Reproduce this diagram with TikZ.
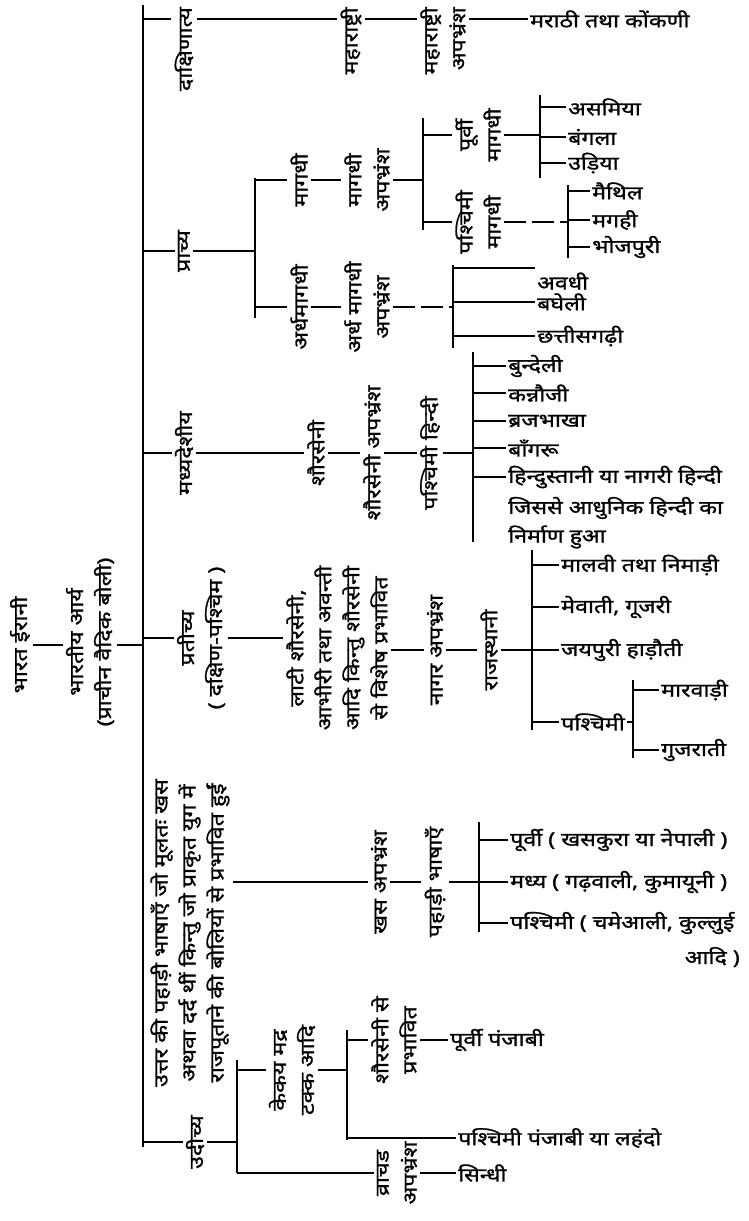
\documentclass[tikz,border=0pt]{standalone}
\usepackage{fontspec}
\newfontfamily\dev[Script=Devanagari,FakeStretch=1.22,FakeBold=1.2]{Noto Sans}
\begin{document}
\begin{tikzpicture}[x=1pt,y=-1pt,
  every node/.style={font=\dev\fontsize{19}{28}\selectfont, inner sep=3pt},
  vl/.style={rotate=90},
  lf/.style={anchor=west, inner sep=2pt},
  ln/.style={line width=2.2pt},
  dd/.style={ln, dash pattern=on 22pt off 6pt}]
\useasboundingbox (0,0) rectangle (748,1221);
% trunk
\coordinate (trT) at (143,5);
\coordinate (trB) at (143,1147);
\draw[ln] (trT) -- (trB);
% root
\node[vl] (root) at (20,645) {भारत ईरानी};
\node[vl,align=center] (bhar) at (90,642) {भारतीय आर्य\\(प्राचीन वैदिक बोली)};
\draw[ln] (root.south) -- (bhar.north |- root);
\draw[ln] (bhar.south |- root) -- (trT |- root);
% dakshinatya row
\coordinate (r19) at (0,19);
\node[vl,anchor=east] (daks) at (184,4) {दाक्षिणात्य};
\draw[ln] (trT |- r19) -- (daks.north |- r19);
\node[vl,anchor=east] (maha) at (351,4) {महाराष्ट्री};
\draw[ln] (daks.south |- r19) -- (maha.north |- r19);
\node[vl,anchor=east,align=right] (mahaA) at (443,4) {महाराष्ट्री\\अपभ्रंश};
\draw[ln] (maha.south |- r19) -- (mahaA.north |- r19);
\node[lf] (marathi) at (528,19) {मराठी तथा कोंकणी};
\draw[ln] (mahaA.south |- r19) -- (marathi.west);
% prachya
\node[vl] (prachya) at (184,251) {प्राच्य};
\draw[ln] (trT |- prachya) -- (prachya.north);
\coordinate (b2t) at (255,178); \coordinate (b2b) at (255,318);
\draw[ln] (b2t) -- (b2b);
\draw[ln] (prachya.south) -- (b2t |- prachya);
\node[vl] (magadhi) at (299,180) {मागधी};
\draw[ln] (b2t |- magadhi) -- (magadhi.north);
\node[vl,align=center] (magA) at (367,180) {मागधी\\अपभ्रंश};
\draw[ln] (magadhi.south) -- (magA.north);
\coordinate (b3t) at (423,118); \coordinate (b3b) at (423,230);
\draw[ln] (b3t) -- (b3b);
\draw[ln] (magA.south) -- (b3t |- magA);
\node[vl,align=center] (purvM) at (478,135) {पूर्वी\\मागधी};
\draw[ln] (b3t |- purvM) -- (purvM.north);
\coordinate (b4t) at (540,95); \coordinate (b4b) at (540,178);
\draw[ln] (b4t) -- (b4b);
\draw[ln] (purvM.south) -- (b4t |- purvM);
\node[lf] (asam) at (566,107) {असमिया};
\node[lf] (bangla) at (566,137) {बंगला};
\node[lf] (udiya) at (566,163) {उड़िया};
\foreach \n in {asam,bangla,udiya} \draw[ln] (b4t |- \n) -- (\n.west);
\node[vl,align=center] (paschM) at (478,222) {पश्चिमी\\मागधी};
\draw[ln] (b3t |- paschM) -- (paschM.north);
\coordinate (b5t) at (568,185); \coordinate (b5b) at (568,258);
\draw[ln] (b5t) -- (b5b);
\draw[dd] (paschM.south) -- (b5t |- paschM);
\node[lf] (maith) at (590,191) {मैथिल};
\node[lf] (magahi) at (590,220) {मगही};
\node[lf] (bhoj) at (590,247) {भोजपुरी};
\foreach \n in {maith,magahi,bhoj} \draw[ln] (b5t |- \n) -- (\n.west);
\node[vl] (ardha) at (299,307) {अर्धमागधी};
\draw[ln] (b2t |- ardha) -- (ardha.north);
\node[vl,align=center] (ardhaA) at (367,307) {अर्ध मागधी\\अपभ्रंश};
\draw[ln] (ardha.south) -- (ardhaA.north);
\coordinate (b6t) at (453,265); \coordinate (b6b) at (453,348);
\draw[ln] (b6t) -- (b6b);
\draw[dd] (ardhaA.south) -- (b6t |- ardhaA);
\coordinate (r268) at (0,268);
\node[lf] (awadhi) at (535,281) {अवधी};
\draw[ln] (b6t |- r268) -- (awadhi.west |- r268);
\node[lf] (bagheli) at (535,302) {बघेली};
\node[lf] (chhatt) at (535,336) {छत्तीसगढ़ी};
\foreach \n in {bagheli,chhatt} \draw[ln] (b6t |- \n) -- (\n.west);
% madhyadeshiya
\node[vl] (madhya) at (184,453) {मध्यदेशीय};
\draw[ln] (trT |- madhya) -- (madhya.north);
\node[vl] (shaur) at (316,453) {शौरसेनी};
\draw[ln] (madhya.south) -- (shaur.north);
\node[vl] (shaurA) at (372,453) {शौरसेनी अपभ्रंश};
\draw[ln] (shaur.south) -- (shaurA.north);
\node[vl] (paschH) at (430,453) {पश्चिमी हिन्दी};
\draw[ln] (shaurA.south) -- (paschH.north);
\coordinate (b7t) at (473,352); \coordinate (b7b) at (473,542);
\draw[ln] (b7t) -- (b7b);
\draw[ln] (paschH.south) -- (b7t |- paschH);
\node[lf] (bund) at (506,366) {बुन्देली};
\node[lf] (kann) at (506,393) {कन्नौजी};
\node[lf] (braj) at (506,421) {ब्रजभाखा};
\node[lf] (bangaru) at (506,448) {बाँगरू};
\node[lf] (hind1) at (506,477) {हिन्दुस्तानी या नागरी हिन्दी};
\node[lf] (hind2) at (506,508) {जिससे आधुनिक  हिन्दी का};
\node[lf] (hind3) at (506,537) {निर्माण हुआ};
\foreach \n in {bund,kann,braj,bangaru,hind1} \draw[ln] (b7t |- \n) -- (\n.west);
% pratichya
\node[vl,align=center] (prat) at (201,638) {प्रतीच्य\\( दक्षिण-पश्चिम )};
\draw[ln] (trT |- prat) -- (prat.north);
\node[vl,align=center] (lati) at (337,648) {लाटी शौरसेनी,\\आभीरी तथा अवन्ती\\आदि किन्तु शौरसेनी\\से विशेष प्रभावित};
\draw[ln] (prat.south) -- (lati.north |- prat);
\node[vl] (nagar) at (435,650) {नागर अपभ्रंश};
\draw[ln] (lati.south |- nagar) -- (nagar.north);
\node[vl] (raj) at (489,650) {राजस्थानी};
\draw[ln] (nagar.south) -- (raj.north);
\coordinate (b8t) at (532,550); \coordinate (b8b) at (532,730);
\draw[ln] (b8t) -- (b8b);
\draw[ln] (raj.south) -- (b8t |- raj);
\node[lf] (malvi) at (559,565) {मालवी तथा निमाड़ी};
\node[lf] (mevati) at (559,607) {मेवाती, गूजरी};
\node[lf] (jaipur) at (559,650) {जयपुरी हाड़ौती};
\node[lf] (pasch2) at (559,722) {पश्चिमी};
\foreach \n in {malvi,mevati,jaipur,pasch2} \draw[ln] (b8t |- \n) -- (\n.west);
\coordinate (b9t) at (633,680); \coordinate (b9b) at (633,758);
\draw[ln] (b9t) -- (b9b);
\draw[ln] (pasch2.east) -- (b9t |- pasch2);
\node[lf] (marwari) at (659,690) {मारवाड़ी};
\node[lf] (gujarati) at (659,750) {गुजराती};
\foreach \n in {marwari,gujarati} \draw[ln] (b9t |- \n) -- (\n.west);
% pahadi
\node[vl,align=center] (pahL) at (190,933) {उत्तर की पहाड़ी भाषाएँ जो मूलतः खस\\अथवा दर्द थीं किन्तु जो प्राकृत युग में\\राजपूताने की बोलियों से प्रभावित हुईं};
\node[vl] (khas) at (379,882) {खस अपभ्रंश};
\draw[ln] (pahL.south |- khas) -- (khas.north);
\node[vl] (pahB) at (435,882) {पहाड़ी भाषाएँ};
\draw[ln] (khas.south) -- (pahB.north);
\coordinate (b10t) at (479,822); \coordinate (b10b) at (479,932);
\draw[ln] (b10t) -- (b10b);
\draw[ln] (pahB.south) -- (b10t |- pahB);
\node[lf] (purvi) at (508,840) {पूर्वी ( खसकुरा या नेपाली )};
\node[lf] (madhya2) at (508,882) {मध्य ( गढ़वाली, कुमायूनी )};
\node[lf] (pasch3) at (508,923) {पश्चिमी ( चमेआली, कुल्लुई};
\node[anchor=east,inner sep=2pt] (adi) at (742,957) {आदि )};
\foreach \n in {purvi,madhya2,pasch3} \draw[ln] (b10t |- \n) -- (\n.west);
% udichya
\node[vl] (udichya) at (195,1142) {उदीच्य};
\draw[ln] (trT |- udichya) -- (udichya.north);
\coordinate (b11t) at (237,1060); \coordinate (b11b) at (237,1173);
\draw[ln] (b11t) -- (b11b);
\draw[ln] (udichya.south) -- (b11t |- udichya);
\node[vl,align=center] (kekay) at (292,1070) {केकय मद्र\\टक्क आदि};
\draw[ln] (b11t |- kekay) -- (kekay.north);
\coordinate (b12t) at (347,1030); \coordinate (b12b) at (347,1140);
\draw[ln] (b12t) -- (b12b);
\draw[ln] (kekay.south) -- (b12t |- kekay);
\node[vl,align=center] (shaurS) at (394,1040) {शौरसेनी से\\प्रभावित};
\draw[ln] (b12t |- shaurS) -- (shaurS.north);
\node[lf] (purvP) at (448,1040) {पूर्वी पंजाबी};
\draw[ln] (shaurS.south) -- (purvP.west);
\node[lf] (paschP) at (456,1138) {पश्चिमी पंजाबी या लहंदो};
\draw[ln] (b12t |- paschP) -- (paschP.west);
\node[vl,align=center] (vrachad) at (397,1173) {व्राचड\\अपभ्रंश};
\draw[ln] (b11t |- vrachad) -- (vrachad.north);
\node[lf] (sindhi) at (456,1173) {सिन्धी};
\draw[ln] (vrachad.south) -- (sindhi.west);
\end{tikzpicture}
\end{document}
